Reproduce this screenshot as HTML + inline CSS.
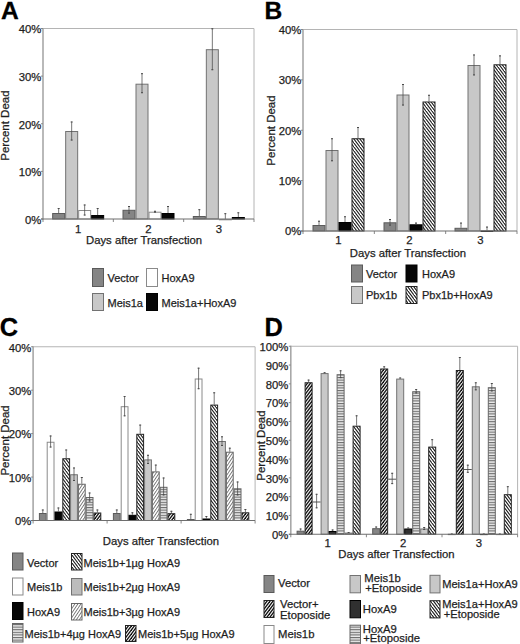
<!DOCTYPE html><html><head><meta charset="utf-8"><style>html,body{margin:0;padding:0;background:#fff;}svg{display:block;}</style></head><body>
<svg width="520" height="644" viewBox="0 0 520 644" font-family="Liberation Sans, sans-serif">
<defs>
<pattern id="hbs" patternUnits="userSpaceOnUse" width="6" height="8"><rect width="6" height="8" fill="#fff"/><polygon points="-9.00,0.00 -7.70,0.00 -1.70,8.00 -3.00,8.00" fill="#111"/><polygon points="-6.00,0.00 -4.70,0.00 1.30,8.00 0.00,8.00" fill="#111"/><polygon points="-3.00,0.00 -1.70,0.00 4.30,8.00 3.00,8.00" fill="#111"/><polygon points="0.00,0.00 1.30,0.00 7.30,8.00 6.00,8.00" fill="#111"/><polygon points="3.00,0.00 4.30,0.00 10.30,8.00 9.00,8.00" fill="#111"/><polygon points="6.00,0.00 7.30,0.00 13.30,8.00 12.00,8.00" fill="#111"/><polygon points="9.00,0.00 10.30,0.00 16.30,8.00 15.00,8.00" fill="#111"/></pattern>
<pattern id="hbsC" patternUnits="userSpaceOnUse" width="6" height="8"><rect width="6" height="8" fill="#fff"/><polygon points="-9.00,0.00 -7.75,0.00 -1.75,8.00 -3.00,8.00" fill="#111"/><polygon points="-6.00,0.00 -4.75,0.00 1.25,8.00 0.00,8.00" fill="#111"/><polygon points="-3.00,0.00 -1.75,0.00 4.25,8.00 3.00,8.00" fill="#111"/><polygon points="0.00,0.00 1.25,0.00 7.25,8.00 6.00,8.00" fill="#111"/><polygon points="3.00,0.00 4.25,0.00 10.25,8.00 9.00,8.00" fill="#111"/><polygon points="6.00,0.00 7.25,0.00 13.25,8.00 12.00,8.00" fill="#111"/><polygon points="9.00,0.00 10.25,0.00 16.25,8.00 15.00,8.00" fill="#111"/></pattern>
<pattern id="hbs2" patternUnits="userSpaceOnUse" width="6" height="8"><rect width="6" height="8" fill="#fff"/><polygon points="-9.00,0.00 -7.60,0.00 -1.60,8.00 -3.00,8.00" fill="#111"/><polygon points="-6.00,0.00 -4.60,0.00 1.40,8.00 0.00,8.00" fill="#111"/><polygon points="-3.00,0.00 -1.60,0.00 4.40,8.00 3.00,8.00" fill="#111"/><polygon points="0.00,0.00 1.40,0.00 7.40,8.00 6.00,8.00" fill="#111"/><polygon points="3.00,0.00 4.40,0.00 10.40,8.00 9.00,8.00" fill="#111"/><polygon points="6.00,0.00 7.40,0.00 13.40,8.00 12.00,8.00" fill="#111"/><polygon points="9.00,0.00 10.40,0.00 16.40,8.00 15.00,8.00" fill="#111"/></pattern>
<pattern id="hfs" patternUnits="userSpaceOnUse" width="6" height="8"><rect width="6" height="8" fill="#fff"/><polygon points="-3.00,0.00 -1.30,0.00 -7.30,8.00 -9.00,8.00" fill="#111"/><polygon points="0.00,0.00 1.70,0.00 -4.30,8.00 -6.00,8.00" fill="#111"/><polygon points="3.00,0.00 4.70,0.00 -1.30,8.00 -3.00,8.00" fill="#111"/><polygon points="6.00,0.00 7.70,0.00 1.70,8.00 0.00,8.00" fill="#111"/><polygon points="9.00,0.00 10.70,0.00 4.70,8.00 3.00,8.00" fill="#111"/><polygon points="12.00,0.00 13.70,0.00 7.70,8.00 6.00,8.00" fill="#111"/><polygon points="15.00,0.00 16.70,0.00 10.70,8.00 9.00,8.00" fill="#111"/></pattern>
<pattern id="hfsC" patternUnits="userSpaceOnUse" width="6" height="8"><rect width="6" height="8" fill="#fff"/><polygon points="-3.00,0.00 -1.40,0.00 -7.40,8.00 -9.00,8.00" fill="#111"/><polygon points="0.00,0.00 1.60,0.00 -4.40,8.00 -6.00,8.00" fill="#111"/><polygon points="3.00,0.00 4.60,0.00 -1.40,8.00 -3.00,8.00" fill="#111"/><polygon points="6.00,0.00 7.60,0.00 1.60,8.00 0.00,8.00" fill="#111"/><polygon points="9.00,0.00 10.60,0.00 4.60,8.00 3.00,8.00" fill="#111"/><polygon points="12.00,0.00 13.60,0.00 7.60,8.00 6.00,8.00" fill="#111"/><polygon points="15.00,0.00 16.60,0.00 10.60,8.00 9.00,8.00" fill="#111"/></pattern>
<pattern id="hls" patternUnits="userSpaceOnUse" width="6" height="9"><rect width="6" height="9" fill="#fff"/><polygon points="-3.00,0.00 -2.00,0.00 -8.00,9.00 -9.00,9.00" fill="#6a6a6a"/><polygon points="0.00,0.00 1.00,0.00 -5.00,9.00 -6.00,9.00" fill="#6a6a6a"/><polygon points="3.00,0.00 4.00,0.00 -2.00,9.00 -3.00,9.00" fill="#6a6a6a"/><polygon points="6.00,0.00 7.00,0.00 1.00,9.00 0.00,9.00" fill="#6a6a6a"/><polygon points="9.00,0.00 10.00,0.00 4.00,9.00 3.00,9.00" fill="#6a6a6a"/><polygon points="12.00,0.00 13.00,0.00 7.00,9.00 6.00,9.00" fill="#6a6a6a"/><polygon points="15.00,0.00 16.00,0.00 10.00,9.00 9.00,9.00" fill="#6a6a6a"/></pattern>
<pattern id="hz" patternUnits="userSpaceOnUse" width="4" height="2.6"><rect width="4" height="2.6" fill="#ececec"/><rect width="4" height="1.1" fill="#6a6a6a"/></pattern>
</defs>
<rect width="520" height="644" fill="#fff"/>
<text x="0.9" y="18.5" font-size="24.6" font-weight="bold" fill="#000" stroke="#000" stroke-width="0.3">A</text>
<path d="M43 28.5H254V219" fill="none" stroke="#b4b4b4" stroke-width="1"/>
<line x1="43" y1="28.0" x2="43" y2="219.5" stroke="#a8a8a8" stroke-width="1.6"/>
<line x1="41" y1="219.00" x2="43" y2="219.00" stroke="#888" stroke-width="1"/>
<text x="41.30" y="223.80" font-size="11.3" fill="#1e1e1e" stroke="#1e1e1e" stroke-width="0.25" text-anchor="end" >0%</text>
<line x1="41" y1="171.38" x2="43" y2="171.38" stroke="#888" stroke-width="1"/>
<text x="41.30" y="176.18" font-size="11.3" fill="#1e1e1e" stroke="#1e1e1e" stroke-width="0.25" text-anchor="end" >10%</text>
<line x1="41" y1="123.75" x2="43" y2="123.75" stroke="#888" stroke-width="1"/>
<text x="41.30" y="128.55" font-size="11.3" fill="#1e1e1e" stroke="#1e1e1e" stroke-width="0.25" text-anchor="end" >20%</text>
<line x1="41" y1="76.12" x2="43" y2="76.12" stroke="#888" stroke-width="1"/>
<text x="41.30" y="80.92" font-size="11.3" fill="#1e1e1e" stroke="#1e1e1e" stroke-width="0.25" text-anchor="end" >30%</text>
<line x1="41" y1="28.50" x2="43" y2="28.50" stroke="#888" stroke-width="1"/>
<text x="41.30" y="33.30" font-size="11.3" fill="#1e1e1e" stroke="#1e1e1e" stroke-width="0.25" text-anchor="end" >40%</text>
<line x1="43.00" y1="219" x2="43.00" y2="222" stroke="#888" stroke-width="1"/>
<line x1="113.33" y1="219" x2="113.33" y2="222" stroke="#888" stroke-width="1"/>
<line x1="183.67" y1="219" x2="183.67" y2="222" stroke="#888" stroke-width="1"/>
<line x1="254.00" y1="219" x2="254.00" y2="222" stroke="#888" stroke-width="1"/>
<rect x="52.67" y="213.50" width="12.00" height="5.50" fill="#858585" stroke="#5a5a5a" stroke-width="1"/>
<rect x="65.67" y="131.50" width="12.00" height="87.50" fill="#c8c8c8" stroke="#727272" stroke-width="1"/>
<rect x="78.67" y="210.50" width="12.00" height="8.50" fill="#ffffff" stroke="#8a8a8a" stroke-width="1"/>
<rect x="91.67" y="215.50" width="12.00" height="3.50" fill="#060606" stroke="#000000" stroke-width="1"/>
<line x1="58.67" y1="208.00" x2="58.67" y2="213.00" stroke="#4a4a4a" stroke-width="0.75"/>
<line x1="57.67" y1="208.50" x2="59.67" y2="208.50" stroke="#4a4a4a" stroke-width="1"/>
<line x1="71.67" y1="121.50" x2="71.67" y2="140.50" stroke="#4a4a4a" stroke-width="0.75"/>
<line x1="70.67" y1="122.00" x2="72.67" y2="122.00" stroke="#4a4a4a" stroke-width="1"/>
<line x1="70.67" y1="140.00" x2="72.67" y2="140.00" stroke="#4a4a4a" stroke-width="1"/>
<line x1="84.67" y1="204.50" x2="84.67" y2="215.50" stroke="#4a4a4a" stroke-width="0.75"/>
<line x1="83.67" y1="205.00" x2="85.67" y2="205.00" stroke="#4a4a4a" stroke-width="1"/>
<line x1="83.67" y1="215.00" x2="85.67" y2="215.00" stroke="#4a4a4a" stroke-width="1"/>
<line x1="97.67" y1="208.00" x2="97.67" y2="215.00" stroke="#4a4a4a" stroke-width="0.75"/>
<line x1="96.67" y1="208.50" x2="98.67" y2="208.50" stroke="#4a4a4a" stroke-width="1"/>
<text x="78.17" y="233.00" font-size="11.3" fill="#1e1e1e" stroke="#1e1e1e" stroke-width="0.25" text-anchor="middle" >1</text>
<rect x="123.00" y="210.30" width="12.00" height="8.70" fill="#858585" stroke="#5a5a5a" stroke-width="1"/>
<rect x="136.00" y="84.20" width="12.00" height="134.80" fill="#c8c8c8" stroke="#727272" stroke-width="1"/>
<rect x="149.00" y="212.20" width="12.00" height="6.80" fill="#ffffff" stroke="#8a8a8a" stroke-width="1"/>
<rect x="162.00" y="213.50" width="12.00" height="5.50" fill="#060606" stroke="#000000" stroke-width="1"/>
<line x1="129.00" y1="206.00" x2="129.00" y2="213.60" stroke="#4a4a4a" stroke-width="0.75"/>
<line x1="128.00" y1="206.50" x2="130.00" y2="206.50" stroke="#4a4a4a" stroke-width="1"/>
<line x1="128.00" y1="213.10" x2="130.00" y2="213.10" stroke="#4a4a4a" stroke-width="1"/>
<line x1="142.00" y1="73.20" x2="142.00" y2="93.20" stroke="#4a4a4a" stroke-width="0.75"/>
<line x1="141.00" y1="73.70" x2="143.00" y2="73.70" stroke="#4a4a4a" stroke-width="1"/>
<line x1="141.00" y1="92.70" x2="143.00" y2="92.70" stroke="#4a4a4a" stroke-width="1"/>
<line x1="155.00" y1="210.80" x2="155.00" y2="212.60" stroke="#4a4a4a" stroke-width="0.75"/>
<line x1="154.00" y1="211.30" x2="156.00" y2="211.30" stroke="#4a4a4a" stroke-width="1"/>
<line x1="154.00" y1="212.10" x2="156.00" y2="212.10" stroke="#4a4a4a" stroke-width="1"/>
<line x1="168.00" y1="206.00" x2="168.00" y2="213.00" stroke="#4a4a4a" stroke-width="0.75"/>
<line x1="167.00" y1="206.50" x2="169.00" y2="206.50" stroke="#4a4a4a" stroke-width="1"/>
<text x="148.50" y="233.00" font-size="11.3" fill="#1e1e1e" stroke="#1e1e1e" stroke-width="0.25" text-anchor="middle" >2</text>
<rect x="193.33" y="216.50" width="12.00" height="2.50" fill="#858585" stroke="#5a5a5a" stroke-width="1"/>
<rect x="206.33" y="49.70" width="12.00" height="169.30" fill="#c8c8c8" stroke="#727272" stroke-width="1"/>
<rect x="219.33" y="219.50" width="12.00" height="0.30" fill="#ffffff" stroke="#8a8a8a" stroke-width="1"/>
<rect x="232.33" y="217.50" width="12.00" height="1.50" fill="#060606" stroke="#000000" stroke-width="1"/>
<line x1="199.33" y1="209.20" x2="199.33" y2="216.00" stroke="#4a4a4a" stroke-width="0.75"/>
<line x1="198.33" y1="209.70" x2="200.33" y2="209.70" stroke="#4a4a4a" stroke-width="1"/>
<line x1="212.33" y1="28.30" x2="212.33" y2="70.20" stroke="#4a4a4a" stroke-width="0.75"/>
<line x1="211.33" y1="28.80" x2="213.33" y2="28.80" stroke="#4a4a4a" stroke-width="1"/>
<line x1="211.33" y1="69.70" x2="213.33" y2="69.70" stroke="#4a4a4a" stroke-width="1"/>
<line x1="225.33" y1="213.20" x2="225.33" y2="219.00" stroke="#4a4a4a" stroke-width="0.75"/>
<line x1="224.33" y1="213.70" x2="226.33" y2="213.70" stroke="#4a4a4a" stroke-width="1"/>
<line x1="238.33" y1="212.30" x2="238.33" y2="217.00" stroke="#4a4a4a" stroke-width="0.75"/>
<line x1="237.33" y1="212.80" x2="239.33" y2="212.80" stroke="#4a4a4a" stroke-width="1"/>
<text x="218.83" y="233.00" font-size="11.3" fill="#1e1e1e" stroke="#1e1e1e" stroke-width="0.25" text-anchor="middle" >3</text>
<line x1="41" y1="219" x2="254" y2="219" stroke="#6e6e6e" stroke-width="1.1"/>
<text x="86.00" y="244.00" font-size="11.3" fill="#1e1e1e" stroke="#1e1e1e" stroke-width="0.25" text-anchor="start" >Days after Transfection</text>
<text x="0" y="0" font-size="11.5" fill="#1e1e1e" stroke="#1e1e1e" stroke-width="0.25" text-anchor="middle" transform="translate(9.4,125.6) rotate(-90)">Percent Dead</text>
<rect x="92.5" y="268.5" width="11" height="18" fill="#858585" stroke="#5a5a5a" stroke-width="1"/>
<text x="107.50" y="281.50" font-size="11" fill="#1e1e1e" stroke="#1e1e1e" stroke-width="0.25" text-anchor="start" >Vector</text>
<rect x="146.5" y="268.5" width="11" height="18" fill="#ffffff" stroke="#8a8a8a" stroke-width="1"/>
<text x="161.50" y="281.50" font-size="11" fill="#1e1e1e" stroke="#1e1e1e" stroke-width="0.25" text-anchor="start" >HoxA9</text>
<rect x="92.5" y="293.5" width="11" height="17" fill="#c8c8c8" stroke="#727272" stroke-width="1"/>
<text x="107.50" y="306.50" font-size="11" fill="#1e1e1e" stroke="#1e1e1e" stroke-width="0.25" text-anchor="start" >Meis1a</text>
<rect x="146.5" y="293.5" width="11" height="17" fill="#060606" stroke="#000000" stroke-width="1"/>
<text x="161.50" y="306.50" font-size="11" fill="#1e1e1e" stroke="#1e1e1e" stroke-width="0.25" text-anchor="start" >Meis1a+HoxA9</text>
<text x="264.4" y="18.5" font-size="24.6" font-weight="bold" fill="#000" stroke="#000" stroke-width="0.3">B</text>
<path d="M303 29.5H517V231" fill="none" stroke="#b4b4b4" stroke-width="1"/>
<line x1="303" y1="29.0" x2="303" y2="231.5" stroke="#a8a8a8" stroke-width="1.6"/>
<line x1="301" y1="231.00" x2="303" y2="231.00" stroke="#888" stroke-width="1"/>
<text x="301.30" y="235.30" font-size="11.3" fill="#1e1e1e" stroke="#1e1e1e" stroke-width="0.25" text-anchor="end" >0%</text>
<line x1="301" y1="180.62" x2="303" y2="180.62" stroke="#888" stroke-width="1"/>
<text x="301.30" y="184.93" font-size="11.3" fill="#1e1e1e" stroke="#1e1e1e" stroke-width="0.25" text-anchor="end" >10%</text>
<line x1="301" y1="130.25" x2="303" y2="130.25" stroke="#888" stroke-width="1"/>
<text x="301.30" y="134.55" font-size="11.3" fill="#1e1e1e" stroke="#1e1e1e" stroke-width="0.25" text-anchor="end" >20%</text>
<line x1="301" y1="79.88" x2="303" y2="79.88" stroke="#888" stroke-width="1"/>
<text x="301.30" y="84.17" font-size="11.3" fill="#1e1e1e" stroke="#1e1e1e" stroke-width="0.25" text-anchor="end" >30%</text>
<line x1="301" y1="29.50" x2="303" y2="29.50" stroke="#888" stroke-width="1"/>
<text x="301.30" y="33.80" font-size="11.3" fill="#1e1e1e" stroke="#1e1e1e" stroke-width="0.25" text-anchor="end" >40%</text>
<line x1="303.00" y1="231" x2="303.00" y2="234" stroke="#888" stroke-width="1"/>
<line x1="374.33" y1="231" x2="374.33" y2="234" stroke="#888" stroke-width="1"/>
<line x1="445.67" y1="231" x2="445.67" y2="234" stroke="#888" stroke-width="1"/>
<line x1="517.00" y1="231" x2="517.00" y2="234" stroke="#888" stroke-width="1"/>
<rect x="313.00" y="225.50" width="12.00" height="5.50" fill="#858585" stroke="#5a5a5a" stroke-width="1"/>
<rect x="326.00" y="150.50" width="12.00" height="80.50" fill="#c8c8c8" stroke="#727272" stroke-width="1"/>
<rect x="339.00" y="222.50" width="12.00" height="8.50" fill="#060606" stroke="#000000" stroke-width="1"/>
<rect x="352.00" y="138.75" width="12.00" height="92.25" fill="url(#hbs)" stroke="#222" stroke-width="1"/>
<line x1="319.00" y1="220.75" x2="319.00" y2="225.00" stroke="#4a4a4a" stroke-width="0.75"/>
<line x1="318.00" y1="221.25" x2="320.00" y2="221.25" stroke="#4a4a4a" stroke-width="1"/>
<line x1="332.00" y1="138.25" x2="332.00" y2="161.25" stroke="#4a4a4a" stroke-width="0.75"/>
<line x1="331.00" y1="138.75" x2="333.00" y2="138.75" stroke="#4a4a4a" stroke-width="1"/>
<line x1="331.00" y1="160.75" x2="333.00" y2="160.75" stroke="#4a4a4a" stroke-width="1"/>
<line x1="345.00" y1="216.25" x2="345.00" y2="222.00" stroke="#4a4a4a" stroke-width="0.75"/>
<line x1="344.00" y1="216.75" x2="346.00" y2="216.75" stroke="#4a4a4a" stroke-width="1"/>
<line x1="358.00" y1="127.00" x2="358.00" y2="138.25" stroke="#4a4a4a" stroke-width="0.75"/>
<line x1="357.00" y1="127.50" x2="359.00" y2="127.50" stroke="#4a4a4a" stroke-width="1"/>
<text x="338.50" y="244.00" font-size="11.3" fill="#1e1e1e" stroke="#1e1e1e" stroke-width="0.25" text-anchor="middle" >1</text>
<rect x="384.00" y="222.80" width="12.00" height="8.20" fill="#858585" stroke="#5a5a5a" stroke-width="1"/>
<rect x="397.00" y="95.00" width="12.00" height="136.00" fill="#c8c8c8" stroke="#727272" stroke-width="1"/>
<rect x="410.00" y="224.80" width="12.00" height="6.20" fill="#060606" stroke="#000000" stroke-width="1"/>
<rect x="423.00" y="102.00" width="12.00" height="129.00" fill="url(#hbs)" stroke="#222" stroke-width="1"/>
<line x1="390.00" y1="219.00" x2="390.00" y2="225.60" stroke="#4a4a4a" stroke-width="0.75"/>
<line x1="389.00" y1="219.50" x2="391.00" y2="219.50" stroke="#4a4a4a" stroke-width="1"/>
<line x1="389.00" y1="225.10" x2="391.00" y2="225.10" stroke="#4a4a4a" stroke-width="1"/>
<line x1="403.00" y1="84.00" x2="403.00" y2="105.50" stroke="#4a4a4a" stroke-width="0.75"/>
<line x1="402.00" y1="84.50" x2="404.00" y2="84.50" stroke="#4a4a4a" stroke-width="1"/>
<line x1="402.00" y1="105.00" x2="404.00" y2="105.00" stroke="#4a4a4a" stroke-width="1"/>
<line x1="416.00" y1="222.60" x2="416.00" y2="224.30" stroke="#4a4a4a" stroke-width="0.75"/>
<line x1="415.00" y1="223.10" x2="417.00" y2="223.10" stroke="#4a4a4a" stroke-width="1"/>
<line x1="429.00" y1="94.80" x2="429.00" y2="101.50" stroke="#4a4a4a" stroke-width="0.75"/>
<line x1="428.00" y1="95.30" x2="430.00" y2="95.30" stroke="#4a4a4a" stroke-width="1"/>
<text x="409.50" y="244.00" font-size="11.3" fill="#1e1e1e" stroke="#1e1e1e" stroke-width="0.25" text-anchor="middle" >2</text>
<rect x="455.00" y="228.30" width="12.00" height="2.70" fill="#858585" stroke="#5a5a5a" stroke-width="1"/>
<rect x="468.00" y="65.50" width="12.00" height="165.50" fill="#c8c8c8" stroke="#727272" stroke-width="1"/>
<rect x="481.00" y="231.00" width="12.00" height="0.30" fill="#060606" stroke="#000000" stroke-width="1"/>
<rect x="494.00" y="64.80" width="12.00" height="166.20" fill="url(#hbs)" stroke="#222" stroke-width="1"/>
<line x1="461.00" y1="222.60" x2="461.00" y2="227.80" stroke="#4a4a4a" stroke-width="0.75"/>
<line x1="460.00" y1="223.10" x2="462.00" y2="223.10" stroke="#4a4a4a" stroke-width="1"/>
<line x1="474.00" y1="54.50" x2="474.00" y2="75.40" stroke="#4a4a4a" stroke-width="0.75"/>
<line x1="473.00" y1="55.00" x2="475.00" y2="55.00" stroke="#4a4a4a" stroke-width="1"/>
<line x1="473.00" y1="74.90" x2="475.00" y2="74.90" stroke="#4a4a4a" stroke-width="1"/>
<line x1="487.00" y1="226.60" x2="487.00" y2="230.50" stroke="#4a4a4a" stroke-width="0.75"/>
<line x1="486.00" y1="227.10" x2="488.00" y2="227.10" stroke="#4a4a4a" stroke-width="1"/>
<line x1="500.00" y1="55.40" x2="500.00" y2="64.30" stroke="#4a4a4a" stroke-width="0.75"/>
<line x1="499.00" y1="55.90" x2="501.00" y2="55.90" stroke="#4a4a4a" stroke-width="1"/>
<text x="480.50" y="244.00" font-size="11.3" fill="#1e1e1e" stroke="#1e1e1e" stroke-width="0.25" text-anchor="middle" >3</text>
<line x1="301" y1="231" x2="517" y2="231" stroke="#6e6e6e" stroke-width="1.1"/>
<text x="349.80" y="257.00" font-size="11.3" fill="#1e1e1e" stroke="#1e1e1e" stroke-width="0.25" text-anchor="start" >Days after Transfection</text>
<text x="0" y="0" font-size="11.5" fill="#1e1e1e" stroke="#1e1e1e" stroke-width="0.25" text-anchor="middle" transform="translate(275.4,130.5) rotate(-90)">Percent Dead</text>
<rect x="351.5" y="265.0" width="11" height="17" fill="#858585" stroke="#5a5a5a" stroke-width="1"/>
<text x="366.00" y="277.50" font-size="11" fill="#1e1e1e" stroke="#1e1e1e" stroke-width="0.25" text-anchor="start" >Vector</text>
<rect x="406.0" y="265.0" width="11" height="17" fill="#060606" stroke="#000000" stroke-width="1"/>
<text x="422.00" y="277.50" font-size="11" fill="#1e1e1e" stroke="#1e1e1e" stroke-width="0.25" text-anchor="start" >HoxA9</text>
<rect x="351.5" y="286.5" width="11" height="17" fill="#c8c8c8" stroke="#727272" stroke-width="1"/>
<text x="366.00" y="299.00" font-size="11" fill="#1e1e1e" stroke="#1e1e1e" stroke-width="0.25" text-anchor="start" >Pbx1b</text>
<rect x="406.0" y="286.5" width="11" height="17" fill="url(#hbs2)" stroke="#222" stroke-width="1"/>
<text x="422.00" y="299.00" font-size="11" fill="#1e1e1e" stroke="#1e1e1e" stroke-width="0.25" text-anchor="start" >Pbx1b+HoxA9</text>
<text x="-0.2" y="335.5" font-size="25.4" font-weight="bold" fill="#000" stroke="#000" stroke-width="0.3">C</text>
<path d="M33.1 346.75H255.1V520.5" fill="none" stroke="#b4b4b4" stroke-width="1"/>
<line x1="33.1" y1="346.25" x2="33.1" y2="521.0" stroke="#a8a8a8" stroke-width="1.6"/>
<line x1="31.1" y1="520.50" x2="33.1" y2="520.50" stroke="#888" stroke-width="1"/>
<text x="31.40" y="525.30" font-size="11.3" fill="#1e1e1e" stroke="#1e1e1e" stroke-width="0.25" text-anchor="end" >0%</text>
<line x1="31.1" y1="477.06" x2="33.1" y2="477.06" stroke="#888" stroke-width="1"/>
<text x="31.40" y="481.86" font-size="11.3" fill="#1e1e1e" stroke="#1e1e1e" stroke-width="0.25" text-anchor="end" >10%</text>
<line x1="31.1" y1="433.62" x2="33.1" y2="433.62" stroke="#888" stroke-width="1"/>
<text x="31.40" y="438.43" font-size="11.3" fill="#1e1e1e" stroke="#1e1e1e" stroke-width="0.25" text-anchor="end" >20%</text>
<line x1="31.1" y1="390.19" x2="33.1" y2="390.19" stroke="#888" stroke-width="1"/>
<text x="31.40" y="394.99" font-size="11.3" fill="#1e1e1e" stroke="#1e1e1e" stroke-width="0.25" text-anchor="end" >30%</text>
<line x1="31.1" y1="346.75" x2="33.1" y2="346.75" stroke="#888" stroke-width="1"/>
<text x="31.40" y="351.55" font-size="11.3" fill="#1e1e1e" stroke="#1e1e1e" stroke-width="0.25" text-anchor="end" >40%</text>
<line x1="33.10" y1="520.5" x2="33.10" y2="523.5" stroke="#888" stroke-width="1"/>
<line x1="107.10" y1="520.5" x2="107.10" y2="523.5" stroke="#888" stroke-width="1"/>
<line x1="181.10" y1="520.5" x2="181.10" y2="523.5" stroke="#888" stroke-width="1"/>
<line x1="255.10" y1="520.5" x2="255.10" y2="523.5" stroke="#888" stroke-width="1"/>
<rect x="39.40" y="513.50" width="6.80" height="7.00" fill="#858585" stroke="#5a5a5a" stroke-width="1"/>
<rect x="47.20" y="442.25" width="6.80" height="78.25" fill="#ffffff" stroke="#8a8a8a" stroke-width="1"/>
<rect x="55.00" y="512.00" width="6.80" height="8.50" fill="#060606" stroke="#000000" stroke-width="1"/>
<rect x="62.80" y="458.75" width="6.80" height="61.75" fill="url(#hbsC)" stroke="#222" stroke-width="1"/>
<rect x="70.60" y="474.75" width="6.80" height="45.75" fill="#c8c8c8" stroke="#727272" stroke-width="1"/>
<rect x="78.40" y="484.25" width="6.80" height="36.25" fill="url(#hls)" stroke="#666" stroke-width="1"/>
<rect x="86.20" y="497.50" width="6.80" height="23.00" fill="url(#hz)" stroke="#666" stroke-width="1"/>
<rect x="94.00" y="513.00" width="6.80" height="7.50" fill="url(#hfsC)" stroke="#222" stroke-width="1"/>
<line x1="42.80" y1="509.50" x2="42.80" y2="513.00" stroke="#4a4a4a" stroke-width="0.75"/>
<line x1="41.80" y1="510.00" x2="43.80" y2="510.00" stroke="#4a4a4a" stroke-width="1"/>
<line x1="50.60" y1="435.50" x2="50.60" y2="447.50" stroke="#4a4a4a" stroke-width="0.75"/>
<line x1="49.60" y1="436.00" x2="51.60" y2="436.00" stroke="#4a4a4a" stroke-width="1"/>
<line x1="49.60" y1="447.00" x2="51.60" y2="447.00" stroke="#4a4a4a" stroke-width="1"/>
<line x1="58.40" y1="507.50" x2="58.40" y2="511.50" stroke="#4a4a4a" stroke-width="0.75"/>
<line x1="57.40" y1="508.00" x2="59.40" y2="508.00" stroke="#4a4a4a" stroke-width="1"/>
<line x1="66.20" y1="449.50" x2="66.20" y2="458.25" stroke="#4a4a4a" stroke-width="0.75"/>
<line x1="65.20" y1="450.00" x2="67.20" y2="450.00" stroke="#4a4a4a" stroke-width="1"/>
<line x1="74.00" y1="467.50" x2="74.00" y2="481.00" stroke="#4a4a4a" stroke-width="0.75"/>
<line x1="73.00" y1="468.00" x2="75.00" y2="468.00" stroke="#4a4a4a" stroke-width="1"/>
<line x1="73.00" y1="480.50" x2="75.00" y2="480.50" stroke="#4a4a4a" stroke-width="1"/>
<line x1="81.80" y1="477.00" x2="81.80" y2="483.75" stroke="#4a4a4a" stroke-width="0.75"/>
<line x1="80.80" y1="477.50" x2="82.80" y2="477.50" stroke="#4a4a4a" stroke-width="1"/>
<line x1="89.60" y1="492.50" x2="89.60" y2="501.50" stroke="#4a4a4a" stroke-width="0.75"/>
<line x1="88.60" y1="493.00" x2="90.60" y2="493.00" stroke="#4a4a4a" stroke-width="1"/>
<line x1="88.60" y1="501.00" x2="90.60" y2="501.00" stroke="#4a4a4a" stroke-width="1"/>
<line x1="97.40" y1="509.50" x2="97.40" y2="512.50" stroke="#4a4a4a" stroke-width="0.75"/>
<line x1="96.40" y1="510.00" x2="98.40" y2="510.00" stroke="#4a4a4a" stroke-width="1"/>
<rect x="113.40" y="513.50" width="6.80" height="7.00" fill="#858585" stroke="#5a5a5a" stroke-width="1"/>
<rect x="121.20" y="406.70" width="6.80" height="113.80" fill="#ffffff" stroke="#8a8a8a" stroke-width="1"/>
<rect x="129.00" y="515.30" width="6.80" height="5.20" fill="#060606" stroke="#000000" stroke-width="1"/>
<rect x="136.80" y="434.30" width="6.80" height="86.20" fill="url(#hbsC)" stroke="#222" stroke-width="1"/>
<rect x="144.60" y="459.90" width="6.80" height="60.60" fill="#c8c8c8" stroke="#727272" stroke-width="1"/>
<rect x="152.40" y="471.90" width="6.80" height="48.60" fill="url(#hls)" stroke="#666" stroke-width="1"/>
<rect x="160.20" y="487.30" width="6.80" height="33.20" fill="url(#hz)" stroke="#666" stroke-width="1"/>
<rect x="168.00" y="513.70" width="6.80" height="6.80" fill="url(#hfsC)" stroke="#222" stroke-width="1"/>
<line x1="116.80" y1="509.50" x2="116.80" y2="513.00" stroke="#4a4a4a" stroke-width="0.75"/>
<line x1="115.80" y1="510.00" x2="117.80" y2="510.00" stroke="#4a4a4a" stroke-width="1"/>
<line x1="124.60" y1="396.00" x2="124.60" y2="416.30" stroke="#4a4a4a" stroke-width="0.75"/>
<line x1="123.60" y1="396.50" x2="125.60" y2="396.50" stroke="#4a4a4a" stroke-width="1"/>
<line x1="123.60" y1="415.80" x2="125.60" y2="415.80" stroke="#4a4a4a" stroke-width="1"/>
<line x1="132.40" y1="512.30" x2="132.40" y2="514.80" stroke="#4a4a4a" stroke-width="0.75"/>
<line x1="131.40" y1="512.80" x2="133.40" y2="512.80" stroke="#4a4a4a" stroke-width="1"/>
<line x1="140.20" y1="424.60" x2="140.20" y2="433.80" stroke="#4a4a4a" stroke-width="0.75"/>
<line x1="139.20" y1="425.10" x2="141.20" y2="425.10" stroke="#4a4a4a" stroke-width="1"/>
<line x1="148.00" y1="454.80" x2="148.00" y2="464.00" stroke="#4a4a4a" stroke-width="0.75"/>
<line x1="147.00" y1="455.30" x2="149.00" y2="455.30" stroke="#4a4a4a" stroke-width="1"/>
<line x1="147.00" y1="463.50" x2="149.00" y2="463.50" stroke="#4a4a4a" stroke-width="1"/>
<line x1="155.80" y1="464.60" x2="155.80" y2="471.40" stroke="#4a4a4a" stroke-width="0.75"/>
<line x1="154.80" y1="465.10" x2="156.80" y2="465.10" stroke="#4a4a4a" stroke-width="1"/>
<line x1="163.60" y1="477.50" x2="163.60" y2="495.40" stroke="#4a4a4a" stroke-width="0.75"/>
<line x1="162.60" y1="478.00" x2="164.60" y2="478.00" stroke="#4a4a4a" stroke-width="1"/>
<line x1="162.60" y1="494.90" x2="164.60" y2="494.90" stroke="#4a4a4a" stroke-width="1"/>
<line x1="171.40" y1="510.80" x2="171.40" y2="513.20" stroke="#4a4a4a" stroke-width="0.75"/>
<line x1="170.40" y1="511.30" x2="172.40" y2="511.30" stroke="#4a4a4a" stroke-width="1"/>
<rect x="187.40" y="519.50" width="6.80" height="1.00" fill="#858585" stroke="#5a5a5a" stroke-width="1"/>
<rect x="195.20" y="379.00" width="6.80" height="141.50" fill="#ffffff" stroke="#8a8a8a" stroke-width="1"/>
<rect x="203.00" y="519.00" width="6.80" height="1.50" fill="#060606" stroke="#000000" stroke-width="1"/>
<rect x="210.80" y="405.10" width="6.80" height="115.40" fill="url(#hbsC)" stroke="#222" stroke-width="1"/>
<rect x="218.60" y="441.50" width="6.80" height="79.00" fill="#c8c8c8" stroke="#727272" stroke-width="1"/>
<rect x="226.40" y="452.20" width="6.80" height="68.30" fill="url(#hls)" stroke="#666" stroke-width="1"/>
<rect x="234.20" y="488.80" width="6.80" height="31.70" fill="url(#hz)" stroke="#666" stroke-width="1"/>
<rect x="242.00" y="512.80" width="6.80" height="7.70" fill="url(#hfsC)" stroke="#222" stroke-width="1"/>
<line x1="190.80" y1="513.80" x2="190.80" y2="519.00" stroke="#4a4a4a" stroke-width="0.75"/>
<line x1="189.80" y1="514.30" x2="191.80" y2="514.30" stroke="#4a4a4a" stroke-width="1"/>
<line x1="198.60" y1="367.70" x2="198.60" y2="389.20" stroke="#4a4a4a" stroke-width="0.75"/>
<line x1="197.60" y1="368.20" x2="199.60" y2="368.20" stroke="#4a4a4a" stroke-width="1"/>
<line x1="197.60" y1="388.70" x2="199.60" y2="388.70" stroke="#4a4a4a" stroke-width="1"/>
<line x1="206.40" y1="516.00" x2="206.40" y2="518.50" stroke="#4a4a4a" stroke-width="0.75"/>
<line x1="205.40" y1="516.50" x2="207.40" y2="516.50" stroke="#4a4a4a" stroke-width="1"/>
<line x1="214.20" y1="392.30" x2="214.20" y2="404.60" stroke="#4a4a4a" stroke-width="0.75"/>
<line x1="213.20" y1="392.80" x2="215.20" y2="392.80" stroke="#4a4a4a" stroke-width="1"/>
<line x1="222.00" y1="436.30" x2="222.00" y2="446.00" stroke="#4a4a4a" stroke-width="0.75"/>
<line x1="221.00" y1="436.80" x2="223.00" y2="436.80" stroke="#4a4a4a" stroke-width="1"/>
<line x1="221.00" y1="445.50" x2="223.00" y2="445.50" stroke="#4a4a4a" stroke-width="1"/>
<line x1="229.80" y1="447.70" x2="229.80" y2="451.70" stroke="#4a4a4a" stroke-width="0.75"/>
<line x1="228.80" y1="448.20" x2="230.80" y2="448.20" stroke="#4a4a4a" stroke-width="1"/>
<line x1="237.60" y1="481.50" x2="237.60" y2="495.40" stroke="#4a4a4a" stroke-width="0.75"/>
<line x1="236.60" y1="482.00" x2="238.60" y2="482.00" stroke="#4a4a4a" stroke-width="1"/>
<line x1="236.60" y1="494.90" x2="238.60" y2="494.90" stroke="#4a4a4a" stroke-width="1"/>
<line x1="245.40" y1="509.00" x2="245.40" y2="512.30" stroke="#4a4a4a" stroke-width="0.75"/>
<line x1="244.40" y1="509.50" x2="246.40" y2="509.50" stroke="#4a4a4a" stroke-width="1"/>
<line x1="31.1" y1="520.5" x2="255.1" y2="520.5" stroke="#6e6e6e" stroke-width="1.1"/>
<text x="102.80" y="544.60" font-size="11.3" fill="#1e1e1e" stroke="#1e1e1e" stroke-width="0.25" text-anchor="start" >Days after Transfection</text>
<text x="0" y="0" font-size="11.5" fill="#1e1e1e" stroke="#1e1e1e" stroke-width="0.25" text-anchor="middle" transform="translate(9.4,440.4) rotate(-90)">Percent Dead</text>
<rect x="12.5" y="553.0" width="10.5" height="17" fill="#858585" stroke="#5a5a5a" stroke-width="1"/>
<text x="27.00" y="566.50" font-size="11" fill="#1e1e1e" stroke="#1e1e1e" stroke-width="0.25" text-anchor="start" >Vector</text>
<rect x="12.5" y="578.0" width="10.5" height="17" fill="#ffffff" stroke="#8a8a8a" stroke-width="1"/>
<text x="27.00" y="591.00" font-size="11" fill="#1e1e1e" stroke="#1e1e1e" stroke-width="0.25" text-anchor="start" >Meis1b</text>
<rect x="12.5" y="602.5" width="10.5" height="17" fill="#060606" stroke="#000000" stroke-width="1"/>
<text x="27.00" y="615.50" font-size="11" fill="#1e1e1e" stroke="#1e1e1e" stroke-width="0.25" text-anchor="start" >HoxA9</text>
<rect x="12.5" y="623.5" width="10.5" height="18.5" fill="url(#hz)" stroke="#666" stroke-width="1"/>
<text x="24.50" y="637.50" font-size="11" fill="#1e1e1e" stroke="#1e1e1e" stroke-width="0.25" text-anchor="start" >Meis1b+4µg HoxA9</text>
<rect x="71.5" y="553.5" width="10.5" height="16.5" fill="url(#hbsC)" stroke="#222" stroke-width="1"/>
<text x="83.50" y="566.50" font-size="11" fill="#1e1e1e" stroke="#1e1e1e" stroke-width="0.25" text-anchor="start" >Meis1b+1µg HoxA9</text>
<rect x="71.5" y="578.5" width="10.5" height="16.5" fill="#bcbcbc" stroke="#727272" stroke-width="1"/>
<text x="83.50" y="591.00" font-size="11" fill="#1e1e1e" stroke="#1e1e1e" stroke-width="0.25" text-anchor="start" >Meis1b+2µg HoxA9</text>
<rect x="71.5" y="603.5" width="10.5" height="16.5" fill="url(#hls)" stroke="#666" stroke-width="1"/>
<text x="83.50" y="615.50" font-size="11" fill="#1e1e1e" stroke="#1e1e1e" stroke-width="0.25" text-anchor="start" >Meis1b+3µg HoxA9</text>
<rect x="125.5" y="625.5" width="10.5" height="16" fill="url(#hfsC)" stroke="#222" stroke-width="1"/>
<text x="138.00" y="637.50" font-size="11" fill="#1e1e1e" stroke="#1e1e1e" stroke-width="0.25" text-anchor="start" >Meis1b+5µg HoxA9</text>
<text x="264.4" y="335.5" font-size="25.4" font-weight="bold" fill="#000" stroke="#000" stroke-width="0.3">D</text>
<path d="M290.8 346.25H517.6V534.25" fill="none" stroke="#b4b4b4" stroke-width="1"/>
<line x1="290.8" y1="345.75" x2="290.8" y2="534.75" stroke="#a8a8a8" stroke-width="1.6"/>
<line x1="288.8" y1="534.25" x2="290.8" y2="534.25" stroke="#888" stroke-width="1"/>
<text x="288.30" y="539.05" font-size="11.3" fill="#1e1e1e" stroke="#1e1e1e" stroke-width="0.25" text-anchor="end" >0%</text>
<line x1="288.8" y1="515.45" x2="290.8" y2="515.45" stroke="#888" stroke-width="1"/>
<text x="288.30" y="520.25" font-size="11.3" fill="#1e1e1e" stroke="#1e1e1e" stroke-width="0.25" text-anchor="end" >10%</text>
<line x1="288.8" y1="496.65" x2="290.8" y2="496.65" stroke="#888" stroke-width="1"/>
<text x="288.30" y="501.45" font-size="11.3" fill="#1e1e1e" stroke="#1e1e1e" stroke-width="0.25" text-anchor="end" >20%</text>
<line x1="288.8" y1="477.85" x2="290.8" y2="477.85" stroke="#888" stroke-width="1"/>
<text x="288.30" y="482.65" font-size="11.3" fill="#1e1e1e" stroke="#1e1e1e" stroke-width="0.25" text-anchor="end" >30%</text>
<line x1="288.8" y1="459.05" x2="290.8" y2="459.05" stroke="#888" stroke-width="1"/>
<text x="288.30" y="463.85" font-size="11.3" fill="#1e1e1e" stroke="#1e1e1e" stroke-width="0.25" text-anchor="end" >40%</text>
<line x1="288.8" y1="440.25" x2="290.8" y2="440.25" stroke="#888" stroke-width="1"/>
<text x="288.30" y="445.05" font-size="11.3" fill="#1e1e1e" stroke="#1e1e1e" stroke-width="0.25" text-anchor="end" >50%</text>
<line x1="288.8" y1="421.45" x2="290.8" y2="421.45" stroke="#888" stroke-width="1"/>
<text x="288.30" y="426.25" font-size="11.3" fill="#1e1e1e" stroke="#1e1e1e" stroke-width="0.25" text-anchor="end" >60%</text>
<line x1="288.8" y1="402.65" x2="290.8" y2="402.65" stroke="#888" stroke-width="1"/>
<text x="288.30" y="407.45" font-size="11.3" fill="#1e1e1e" stroke="#1e1e1e" stroke-width="0.25" text-anchor="end" >70%</text>
<line x1="288.8" y1="383.85" x2="290.8" y2="383.85" stroke="#888" stroke-width="1"/>
<text x="288.30" y="388.65" font-size="11.3" fill="#1e1e1e" stroke="#1e1e1e" stroke-width="0.25" text-anchor="end" >80%</text>
<line x1="288.8" y1="365.05" x2="290.8" y2="365.05" stroke="#888" stroke-width="1"/>
<text x="288.30" y="369.85" font-size="11.3" fill="#1e1e1e" stroke="#1e1e1e" stroke-width="0.25" text-anchor="end" >90%</text>
<line x1="288.8" y1="346.25" x2="290.8" y2="346.25" stroke="#888" stroke-width="1"/>
<text x="288.30" y="351.05" font-size="11.3" fill="#1e1e1e" stroke="#1e1e1e" stroke-width="0.25" text-anchor="end" >100%</text>
<line x1="290.80" y1="534.25" x2="290.80" y2="537.25" stroke="#888" stroke-width="1"/>
<line x1="366.40" y1="534.25" x2="366.40" y2="537.25" stroke="#888" stroke-width="1"/>
<line x1="442.00" y1="534.25" x2="442.00" y2="537.25" stroke="#888" stroke-width="1"/>
<line x1="517.60" y1="534.25" x2="517.60" y2="537.25" stroke="#888" stroke-width="1"/>
<rect x="297.10" y="531.20" width="7.00" height="3.05" fill="#858585" stroke="#5a5a5a" stroke-width="1"/>
<rect x="305.10" y="382.75" width="7.00" height="151.50" fill="url(#hfs)" stroke="#222" stroke-width="1"/>
<rect x="313.10" y="502.00" width="7.00" height="32.25" fill="#ffffff" stroke="none" stroke-width="1"/>
<line x1="312.60" y1="502.00" x2="320.60" y2="502.00" stroke="#555" stroke-width="1"/>
<rect x="321.10" y="373.60" width="7.00" height="160.65" fill="#c8c8c8" stroke="#727272" stroke-width="1"/>
<rect x="329.10" y="531.50" width="7.00" height="2.75" fill="#303030" stroke="#000000" stroke-width="1"/>
<rect x="337.10" y="374.70" width="7.00" height="159.55" fill="url(#hz)" stroke="#666" stroke-width="1"/>
<rect x="345.10" y="533.10" width="7.00" height="1.15" fill="#c8c8c8" stroke="#727272" stroke-width="1"/>
<rect x="353.10" y="426.20" width="7.00" height="108.05" fill="url(#hbs2)" stroke="#222" stroke-width="1"/>
<line x1="300.60" y1="528.50" x2="300.60" y2="530.70" stroke="#4a4a4a" stroke-width="0.75"/>
<line x1="299.60" y1="529.00" x2="301.60" y2="529.00" stroke="#4a4a4a" stroke-width="1"/>
<line x1="308.60" y1="379.60" x2="308.60" y2="382.25" stroke="#4a4a4a" stroke-width="0.75"/>
<line x1="307.60" y1="380.10" x2="309.60" y2="380.10" stroke="#4a4a4a" stroke-width="1"/>
<line x1="316.60" y1="493.80" x2="316.60" y2="508.30" stroke="#4a4a4a" stroke-width="0.75"/>
<line x1="315.60" y1="494.30" x2="317.60" y2="494.30" stroke="#4a4a4a" stroke-width="1"/>
<line x1="315.60" y1="507.80" x2="317.60" y2="507.80" stroke="#4a4a4a" stroke-width="1"/>
<line x1="324.60" y1="372.20" x2="324.60" y2="373.10" stroke="#4a4a4a" stroke-width="0.75"/>
<line x1="323.60" y1="372.70" x2="325.60" y2="372.70" stroke="#4a4a4a" stroke-width="1"/>
<line x1="332.60" y1="529.50" x2="332.60" y2="531.00" stroke="#4a4a4a" stroke-width="0.75"/>
<line x1="331.60" y1="530.00" x2="333.60" y2="530.00" stroke="#4a4a4a" stroke-width="1"/>
<line x1="340.60" y1="370.30" x2="340.60" y2="378.10" stroke="#4a4a4a" stroke-width="0.75"/>
<line x1="339.60" y1="370.80" x2="341.60" y2="370.80" stroke="#4a4a4a" stroke-width="1"/>
<line x1="339.60" y1="377.60" x2="341.60" y2="377.60" stroke="#4a4a4a" stroke-width="1"/>
<line x1="348.60" y1="532.00" x2="348.60" y2="532.60" stroke="#4a4a4a" stroke-width="0.75"/>
<line x1="347.60" y1="532.50" x2="349.60" y2="532.50" stroke="#4a4a4a" stroke-width="1"/>
<line x1="356.60" y1="415.30" x2="356.60" y2="425.70" stroke="#4a4a4a" stroke-width="0.75"/>
<line x1="355.60" y1="415.80" x2="357.60" y2="415.80" stroke="#4a4a4a" stroke-width="1"/>
<text x="327.60" y="546.50" font-size="11.3" fill="#1e1e1e" stroke="#1e1e1e" stroke-width="0.25" text-anchor="middle" >1</text>
<rect x="372.70" y="528.70" width="7.00" height="5.55" fill="#858585" stroke="#5a5a5a" stroke-width="1"/>
<rect x="380.70" y="369.00" width="7.00" height="165.25" fill="url(#hfs)" stroke="#222" stroke-width="1"/>
<rect x="388.70" y="479.20" width="7.00" height="55.05" fill="#ffffff" stroke="none" stroke-width="1"/>
<line x1="388.20" y1="479.20" x2="396.20" y2="479.20" stroke="#555" stroke-width="1"/>
<rect x="396.70" y="379.10" width="7.00" height="155.15" fill="#c8c8c8" stroke="#727272" stroke-width="1"/>
<rect x="404.70" y="529.00" width="7.00" height="5.25" fill="#303030" stroke="#000000" stroke-width="1"/>
<rect x="412.70" y="391.70" width="7.00" height="142.55" fill="url(#hz)" stroke="#666" stroke-width="1"/>
<rect x="420.70" y="529.00" width="7.00" height="5.25" fill="#c8c8c8" stroke="#727272" stroke-width="1"/>
<rect x="428.70" y="447.10" width="7.00" height="87.15" fill="url(#hbs2)" stroke="#222" stroke-width="1"/>
<line x1="376.20" y1="526.50" x2="376.20" y2="528.20" stroke="#4a4a4a" stroke-width="0.75"/>
<line x1="375.20" y1="527.00" x2="377.20" y2="527.00" stroke="#4a4a4a" stroke-width="1"/>
<line x1="384.20" y1="366.30" x2="384.20" y2="368.50" stroke="#4a4a4a" stroke-width="0.75"/>
<line x1="383.20" y1="366.80" x2="385.20" y2="366.80" stroke="#4a4a4a" stroke-width="1"/>
<line x1="392.20" y1="472.80" x2="392.20" y2="484.10" stroke="#4a4a4a" stroke-width="0.75"/>
<line x1="391.20" y1="473.30" x2="393.20" y2="473.30" stroke="#4a4a4a" stroke-width="1"/>
<line x1="391.20" y1="483.60" x2="393.20" y2="483.60" stroke="#4a4a4a" stroke-width="1"/>
<line x1="400.20" y1="377.50" x2="400.20" y2="378.60" stroke="#4a4a4a" stroke-width="0.75"/>
<line x1="399.20" y1="378.00" x2="401.20" y2="378.00" stroke="#4a4a4a" stroke-width="1"/>
<line x1="408.20" y1="527.50" x2="408.20" y2="528.50" stroke="#4a4a4a" stroke-width="0.75"/>
<line x1="407.20" y1="528.00" x2="409.20" y2="528.00" stroke="#4a4a4a" stroke-width="1"/>
<line x1="416.20" y1="389.00" x2="416.20" y2="393.40" stroke="#4a4a4a" stroke-width="0.75"/>
<line x1="415.20" y1="389.50" x2="417.20" y2="389.50" stroke="#4a4a4a" stroke-width="1"/>
<line x1="415.20" y1="392.90" x2="417.20" y2="392.90" stroke="#4a4a4a" stroke-width="1"/>
<line x1="424.20" y1="527.00" x2="424.20" y2="530.00" stroke="#4a4a4a" stroke-width="0.75"/>
<line x1="423.20" y1="527.50" x2="425.20" y2="527.50" stroke="#4a4a4a" stroke-width="1"/>
<line x1="423.20" y1="529.50" x2="425.20" y2="529.50" stroke="#4a4a4a" stroke-width="1"/>
<line x1="432.20" y1="439.20" x2="432.20" y2="446.60" stroke="#4a4a4a" stroke-width="0.75"/>
<line x1="431.20" y1="439.70" x2="433.20" y2="439.70" stroke="#4a4a4a" stroke-width="1"/>
<text x="403.20" y="546.50" font-size="11.3" fill="#1e1e1e" stroke="#1e1e1e" stroke-width="0.25" text-anchor="middle" >2</text>
<rect x="448.30" y="534.30" width="7.00" height="0.30" fill="#858585" stroke="#5a5a5a" stroke-width="1"/>
<rect x="456.30" y="370.50" width="7.00" height="163.75" fill="url(#hfs)" stroke="#222" stroke-width="1"/>
<rect x="464.30" y="469.50" width="7.00" height="64.75" fill="#ffffff" stroke="none" stroke-width="1"/>
<line x1="463.80" y1="469.50" x2="471.80" y2="469.50" stroke="#555" stroke-width="1"/>
<rect x="472.30" y="386.80" width="7.00" height="147.45" fill="#c8c8c8" stroke="#727272" stroke-width="1"/>
<rect x="480.30" y="534.30" width="7.00" height="0.30" fill="#303030" stroke="#000000" stroke-width="1"/>
<rect x="488.30" y="387.70" width="7.00" height="146.55" fill="url(#hz)" stroke="#666" stroke-width="1"/>
<rect x="496.30" y="534.30" width="7.00" height="0.30" fill="#c8c8c8" stroke="#727272" stroke-width="1"/>
<rect x="504.30" y="494.70" width="7.00" height="39.55" fill="url(#hbs2)" stroke="#222" stroke-width="1"/>
<line x1="451.80" y1="533.50" x2="451.80" y2="533.80" stroke="#4a4a4a" stroke-width="0.75"/>
<line x1="450.80" y1="534.00" x2="452.80" y2="534.00" stroke="#4a4a4a" stroke-width="1"/>
<line x1="459.80" y1="357.00" x2="459.80" y2="370.00" stroke="#4a4a4a" stroke-width="0.75"/>
<line x1="458.80" y1="357.50" x2="460.80" y2="357.50" stroke="#4a4a4a" stroke-width="1"/>
<line x1="467.80" y1="464.70" x2="467.80" y2="472.80" stroke="#4a4a4a" stroke-width="0.75"/>
<line x1="466.80" y1="465.20" x2="468.80" y2="465.20" stroke="#4a4a4a" stroke-width="1"/>
<line x1="466.80" y1="472.30" x2="468.80" y2="472.30" stroke="#4a4a4a" stroke-width="1"/>
<line x1="475.80" y1="382.30" x2="475.80" y2="390.30" stroke="#4a4a4a" stroke-width="0.75"/>
<line x1="474.80" y1="382.80" x2="476.80" y2="382.80" stroke="#4a4a4a" stroke-width="1"/>
<line x1="474.80" y1="389.80" x2="476.80" y2="389.80" stroke="#4a4a4a" stroke-width="1"/>
<line x1="483.80" y1="533.50" x2="483.80" y2="533.80" stroke="#4a4a4a" stroke-width="0.75"/>
<line x1="482.80" y1="534.00" x2="484.80" y2="534.00" stroke="#4a4a4a" stroke-width="1"/>
<line x1="491.80" y1="383.00" x2="491.80" y2="391.40" stroke="#4a4a4a" stroke-width="0.75"/>
<line x1="490.80" y1="383.50" x2="492.80" y2="383.50" stroke="#4a4a4a" stroke-width="1"/>
<line x1="490.80" y1="390.90" x2="492.80" y2="390.90" stroke="#4a4a4a" stroke-width="1"/>
<line x1="499.80" y1="533.50" x2="499.80" y2="533.80" stroke="#4a4a4a" stroke-width="0.75"/>
<line x1="498.80" y1="534.00" x2="500.80" y2="534.00" stroke="#4a4a4a" stroke-width="1"/>
<line x1="507.80" y1="486.20" x2="507.80" y2="494.20" stroke="#4a4a4a" stroke-width="0.75"/>
<line x1="506.80" y1="486.70" x2="508.80" y2="486.70" stroke="#4a4a4a" stroke-width="1"/>
<text x="478.80" y="546.50" font-size="11.3" fill="#1e1e1e" stroke="#1e1e1e" stroke-width="0.25" text-anchor="middle" >3</text>
<line x1="288.8" y1="534.25" x2="517.6" y2="534.25" stroke="#6e6e6e" stroke-width="1.1"/>
<text x="338.30" y="558.00" font-size="11.3" fill="#1e1e1e" stroke="#1e1e1e" stroke-width="0.25" text-anchor="start" >Days after Transfection</text>
<text x="0" y="0" font-size="11.5" fill="#1e1e1e" stroke="#1e1e1e" stroke-width="0.25" text-anchor="middle" transform="translate(265.4,445.6) rotate(-90)">Percent Dead</text>
<rect x="264.0" y="575.5" width="10" height="17" fill="#858585" stroke="#5a5a5a" stroke-width="1"/>
<text x="278.00" y="587.00" font-size="11.3" fill="#1e1e1e" stroke="#1e1e1e" stroke-width="0.25" text-anchor="start" >Vector</text>
<rect x="264.0" y="600.5" width="10" height="17" fill="url(#hfs)" stroke="#222" stroke-width="1"/>
<text x="280.00" y="607.50" font-size="11.3" fill="#1e1e1e" stroke="#1e1e1e" stroke-width="0.25" text-anchor="start" >Vector+</text>
<text x="280.00" y="618.50" font-size="11.3" fill="#1e1e1e" stroke="#1e1e1e" stroke-width="0.25" text-anchor="start" >Etoposide</text>
<rect x="264.0" y="625.5" width="10" height="18" fill="#ffffff" stroke="#8a8a8a" stroke-width="1"/>
<text x="278.00" y="638.00" font-size="11.3" fill="#1e1e1e" stroke="#1e1e1e" stroke-width="0.25" text-anchor="start" >Meis1b</text>
<rect x="350.0" y="575.5" width="10.5" height="17.3" fill="#c8c8c8" stroke="#727272" stroke-width="1"/>
<text x="364.30" y="581.80" font-size="11.3" fill="#1e1e1e" stroke="#1e1e1e" stroke-width="0.25" text-anchor="start" >Meis1b</text>
<text x="365.20" y="591.60" font-size="11.3" fill="#1e1e1e" stroke="#1e1e1e" stroke-width="0.25" text-anchor="start" >+Etoposide</text>
<rect x="350.0" y="600.5" width="10.5" height="17.3" fill="#303030" stroke="#000000" stroke-width="1"/>
<text x="362.80" y="612.50" font-size="11.3" fill="#1e1e1e" stroke="#1e1e1e" stroke-width="0.25" text-anchor="start" >HoxA9</text>
<rect x="350.0" y="625.2" width="10.5" height="18.5" fill="url(#hz)" stroke="#666" stroke-width="1"/>
<text x="362.80" y="632.50" font-size="11.3" fill="#1e1e1e" stroke="#1e1e1e" stroke-width="0.25" text-anchor="start" >HoxA9</text>
<text x="363.20" y="642.00" font-size="11.3" fill="#1e1e1e" stroke="#1e1e1e" stroke-width="0.25" text-anchor="start" >+Etoposide</text>
<rect x="430.0" y="575.3" width="10" height="17.6" fill="#c8c8c8" stroke="#727272" stroke-width="1"/>
<text x="442.20" y="587.60" font-size="11.1" fill="#1e1e1e" stroke="#1e1e1e" stroke-width="0.25" text-anchor="start" >Meis1a+HoxA9</text>
<rect x="430.0" y="600.7" width="10" height="17.2" fill="url(#hbs2)" stroke="#222" stroke-width="1"/>
<text x="442.20" y="607.60" font-size="11.1" fill="#1e1e1e" stroke="#1e1e1e" stroke-width="0.25" text-anchor="start" >Meis1a+HoxA9</text>
<text x="443.80" y="618.20" font-size="11.1" fill="#1e1e1e" stroke="#1e1e1e" stroke-width="0.25" text-anchor="start" >+Etoposide</text>
</svg></body></html>
